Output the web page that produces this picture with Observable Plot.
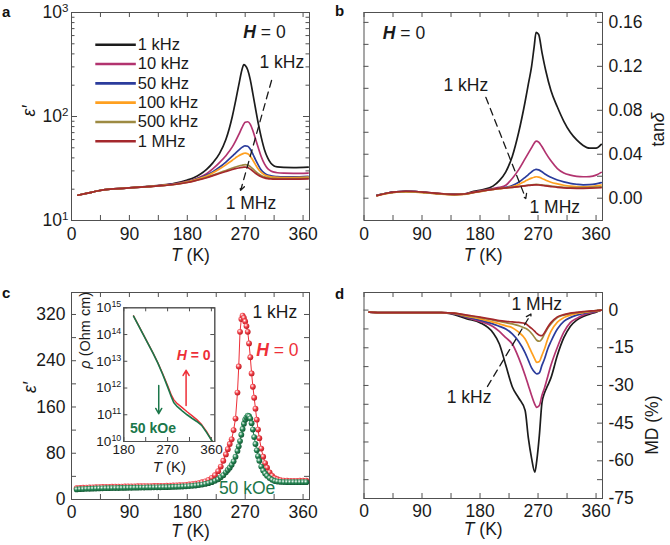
<!DOCTYPE html>
<html><head><meta charset="utf-8">
<script src="https://cdn.jsdelivr.net/npm/d3@7"></script>
<script src="https://cdn.jsdelivr.net/npm/@observablehq/plot@0.6"></script>
<style>
body{margin:0;background:#fff;}
#fig{position:relative;width:670px;height:545px;background:#fff;font-family:'Liberation Sans',Arial,Helvetica,sans-serif;}
.plab{position:absolute;font-weight:bold;font-size:15px;line-height:15px;color:#111;}
</style></head>
<body><div id="fig">
<div class="plab" style="left:2px;top:4px">a</div>
<div class="plab" style="left:335px;top:3px">b</div>
<div class="plab" style="left:2px;top:285px">c</div>
<div class="plab" style="left:335px;top:286px">d</div>
</div>
<script>
// ---------- data ----------
const freqs = ["1 kHz","10 kHz","50 kHz","100 kHz","500 kHz","1 MHz"];
const freqColors = ["#1c1c1c","#b2336f","#2b3c9c","#ffa020","#9d8a42","#a4282c"];

// panel a: eps' (log) vs T
const Ta = [10,25,40,60,80,100,120,140,160,180,190,200,210,220,230,240,250,255,260,265,268,270,274,278,282,286,290,295,300,305,310,315,320,330,345,368];
const epsA_1k   = [17.5,18.3,19.2,20.0,20.4,20.8,21.3,21.9,22.8,24.5,25.8,27.8,31,36,44,60,100,140,200,282,316,310,280,225,165,120,88,63,48,40,35.5,33.5,32.8,32.4,32.3,32.6];
const epsA_10k  = [17.5,18.3,19.2,20.0,20.4,20.8,21.2,21.8,22.5,23.8,24.8,26.2,28.2,31.5,36,42,51,58,67,78,85,88,89,84,73,61,51,41,35,31.5,30,29.2,28.8,28.5,28.4,28.6];
const epsA_50k  = [17.5,18.3,19.2,20,20.4,20.8,21.2,21.7,22.4,23.6,24.5,25.7,27.3,29.5,32.5,36.5,41.5,44.5,47.5,50.5,51.8,52.3,51.8,48.5,43.5,38.5,34.5,30.5,28.5,27.4,26.9,26.6,26.4,26.3,26.3,26.6];
const epsA_100k = [17.5,18.3,19.2,20,20.4,20.8,21.2,21.7,22.3,23.5,24.3,25.4,26.8,28.8,31.3,34.3,38,40,42,43.5,44.2,44.5,43.8,41.5,38,34.5,31.5,29,27.5,26.7,26.3,26.1,26,25.9,25.9,26.1];
const epsA_500k = [17.5,18.3,19.2,20,20.4,20.8,21.2,21.6,22.2,23.3,24,25,26,27.3,28.8,30.3,31.9,32.7,33.4,34,34.3,34.4,34.1,33,31.3,29.7,28.4,27.1,26.3,25.8,25.5,25.4,25.3,25.3,25.3,25.5];
const epsA_1M   = [17.5,18.3,19.2,20,20.4,20.8,21.2,21.6,22.2,23.2,23.9,24.8,25.8,27,28.3,29.6,30.9,31.5,32,32.4,32.6,32.6,32.3,31.2,29.8,28.5,27.4,26.4,25.7,25.3,25.1,25,25,25,25,25.1];

// panel b: tan(delta) vs T
const Tb = [20,35,50,65,80,95,110,125,140,155,170,185,200,210,220,230,240,250,255,260,264,267,271,276,282,290,300,310,320,330,340,350,360,368];
const tanB_1k   = [0.0025,0.0045,0.0057,0.0062,0.006,0.0053,0.0045,0.0038,0.0034,0.0038,0.0062,0.0078,0.011,0.016,0.024,0.038,0.06,0.088,0.104,0.12,0.138,0.151,0.149,0.133,0.116,0.098,0.083,0.07,0.06,0.053,0.048,0.0455,0.0455,0.049];
const tanB_10k  = [0.0025,0.0045,0.0057,0.0062,0.006,0.0053,0.0045,0.0037,0.0033,0.0037,0.0055,0.0072,0.0088,0.0098,0.0118,0.018,0.026,0.036,0.041,0.046,0.05,0.052,0.051,0.047,0.041,0.034,0.027,0.023,0.021,0.0198,0.0195,0.0197,0.021,0.0235];
const tanB_50k  = [0.0025,0.0045,0.0057,0.0062,0.006,0.0052,0.0044,0.0037,0.0033,0.0036,0.0052,0.0068,0.0082,0.009,0.0098,0.0115,0.0145,0.019,0.0215,0.024,0.0256,0.0263,0.0258,0.024,0.0215,0.019,0.0165,0.0148,0.0135,0.0127,0.0122,0.0123,0.013,0.0142];
const tanB_100k = [0.0022,0.0042,0.0054,0.0058,0.0056,0.0049,0.0041,0.0034,0.0031,0.0035,0.005,0.0065,0.0079,0.0087,0.0094,0.0105,0.0125,0.0155,0.017,0.0183,0.0191,0.0195,0.0192,0.018,0.0163,0.0145,0.013,0.0118,0.011,0.0106,0.0104,0.0106,0.0112,0.012];
const tanB_500k = [0.0024,0.0044,0.0056,0.006,0.0058,0.0051,0.0043,0.0036,0.0033,0.0037,0.0052,0.0067,0.008,0.0088,0.0093,0.0099,0.0106,0.0115,0.0119,0.0122,0.0124,0.0125,0.0124,0.0121,0.0116,0.011,0.0104,0.0099,0.0097,0.0096,0.0096,0.0098,0.0101,0.0104];
const tanB_1M   = [0.0024,0.0045,0.0058,0.0063,0.0061,0.0054,0.0046,0.0038,0.0034,0.0038,0.0053,0.0068,0.0081,0.0089,0.0094,0.0099,0.0105,0.0112,0.0116,0.0119,0.0121,0.0121,0.012,0.0117,0.0112,0.0106,0.0099,0.0094,0.0091,0.009,0.009,0.0091,0.0093,0.0095];

// panel c: eps' at 1 kHz, H = 0 and 50 kOe
const Tc = [8,13,18,23,28,33,38,43,48,53,58,63,68,73,78,83,88,93,98,103,108,113,118,123,128,133,138,143,148,153,158,163,168,173,178,183,188,193,198,203,208,213,218,223,228,
  232,236,240,243,246,249,252,255,258,260,262,264,266,268,270,272,274,276,278,280,282,284,286,288,290,292,295,298,301,304,308,312,316,320,325,330,335,340,345,350,355,360,365];
const epsC_H0 = [19.5,20,20.3,20.6,20.9,21.1,21.3,21.5,21.7,21.9,22,22.1,22.2,22.3,22.4,22.5,22.6,22.7,22.8,22.9,23,23.1,23.2,23.3,23.4,23.5,23.6,23.7,23.8,24,24.2,24.4,24.7,25,25.4,25.9,26.5,27.3,28.4,29.8,31.5,34,37.5,42,49,
  57,67,78,87,96,104,120,140,185,230,290,312,318,314,308,300,290,270,246,218,195,176,157,138,121,106,88,74,63,55,47,41,37,35,33.5,32.8,32.5,32.3,32.3,32.3,32.4,32.4,32.5];
const epsC_50k = [17.5,17.8,18.1,18.4,18.6,18.8,19,19.2,19.3,19.5,19.6,19.7,19.8,19.9,20,20.1,20.2,20.3,20.4,20.5,20.6,20.7,20.8,20.9,21,21.1,21.2,21.3,21.4,21.6,21.8,22,22.2,22.5,22.8,23.2,23.6,24.2,24.9,25.8,26.9,28.3,30,32.3,35,
  38.5,42,47,51,55,60,66,74,84,92,101,112,122,131,138,142,145,144,140,132,121,108,96,85,75,67,57,50,45,41,37,34,32,31,30.4,30.1,30,29.9,29.9,29.9,30,30,30];

// inset: resistivity (Ohm cm) vs T
const Tin = [200,210,220,230,240,250,260,270,278,283,290,300,310,320,330,340,350,361];
const rhoH0  = [5.0e14,2.25e14,1.02e14,4.6e13,2.05e13,8.8e12,3.4e12,1.25e12,5.3e11,3.6e11,2.6e11,1.85e11,1.3e11,9.3e10,6.6e10,4.3e10,2.4e10,1.07e10];
const rho50k = [4.9e14,2.2e14,1.0e14,4.5e13,2.0e13,8.5e12,3.2e12,1.1e12,4.5e11,2.8e11,2.0e11,1.4e11,1.0e11,7.4e10,5.6e10,4.0e10,2.2e10,1.07e10];

// panel d: magnetodielectric MD (%) vs T
const Td = [8,30,60,90,120,140,160,180,200,210,220,230,240,250,255,260,265,268,272,276,280,285,290,300,310,320,330,340,350,360,368];
const mdD_1k   = [-0.8,-1,-1,-1,-1,-1.8,-3.5,-5,-9,-13.5,-22,-30.5,-35,-40,-51,-59,-64.5,-60,-50,-37,-33,-30,-27,-18,-11,-6.5,-4,-2.5,-1.6,-0.8,0];
const mdD_10k  = [-0.8,-1,-1,-1,-1,-1.5,-3,-4.5,-6.5,-8.5,-11,-13.5,-19,-26,-30,-34,-37.5,-38.7,-38,-34,-31,-26.5,-22,-14.8,-8.8,-5,-3.3,-2,-1.2,-0.6,0];
const mdD_50k  = [-0.8,-1,-1,-1,-1,-1.4,-2.8,-4,-5.5,-6.5,-7.5,-9.5,-12.5,-17,-20,-23,-24.8,-25.4,-25,-22,-19.5,-15.5,-12.5,-7.5,-4.5,-3,-2,-1.3,-0.8,-0.4,0];
const mdD_100k = [-0.8,-1,-1,-1,-1,-1.3,-2.5,-3.5,-4.8,-5.5,-6.3,-7,-8.8,-11.5,-14,-16.8,-19.5,-20.8,-20.5,-18,-15.5,-11.5,-8.5,-4.8,-3,-2,-1.4,-1,-0.6,-0.3,0];
const mdD_500k = [-0.8,-1,-1,-1,-1,-1.2,-2.2,-3,-4,-4.5,-5,-5.5,-6.2,-7.2,-8,-9.3,-11,-12,-12.4,-11.5,-9.5,-7.2,-5.5,-3,-2,-1.4,-1,-0.7,-0.4,-0.2,0];
const mdD_1M   = [-0.8,-1,-1,-1,-1,-1.2,-2,-2.8,-3.7,-4.2,-4.5,-4.7,-4.9,-5.3,-6.3,-7.3,-8.5,-9.3,-10,-10.2,-9,-6.8,-5,-2.7,-1.8,-1.2,-0.9,-0.6,-0.4,-0.2,0];

// tick values
const xLabelTicks = [0,90,180,270,360];
const xMinorTicks = [0,45,90,135,180,225,270,315,360];
const logMajor = [10,100,1000];
const logMinor = [20,30,40,50,60,70,80,90,200,300,400,500,600,700,800,900];
const tanLabelTicks = [0,0.04,0.08,0.12,0.16];
const tanTicks = [0,0.02,0.04,0.06,0.08,0.10,0.12,0.14,0.16];
const epsCLabelTicks = [0,80,160,240,320];
const epsCTicks = [0,40,80,120,160,200,240,280,320];
const mdLabelTicks = [0,-15,-30,-45,-60,-75];
const mdTicks = [0,-7.5,-15,-22.5,-30,-37.5,-45,-52.5,-60,-67.5,-75];
const inXTicks = [180,270,360];
const inXMinor = [180,225,270,315,360];
const inYTicks = [1e10,1e11,1e12,1e13,1e14,1e15];

// annotations (data coordinates)
const annA = [{T: 300, v: 640, s: "H = 0"}, {T: 327, v: 330, s: "1 kHz"}, {T: 279, v: 14.5, s: "1 MHz"}];
const arrA = [{x1: 311, y1: 222, x2: 263, y2: 19.5}];
const annB = [{T: 62, v: 0.150, s: "H = 0"}, {T: 158, v: 0.1027, s: "1 kHz"}, {T: 296, v: -0.0085, s: "1 MHz"}];
const arrB = [{x1: 189, y1: 0.0918, x2: 251, y2: -0.0003}];
const annD = [{T: 268, v: 2.4, s: "1 MHz"}, {T: 163, v: -34.7, s: "1 kHz"}];
const arrD = [{x1: 191.6, y1: -30.4, x2: 259, y2: -1.6}];

// ---------- drawing ----------
const FONT = "'Liberation Sans', Arial, Helvetica, sans-serif";
const INK = "#1a1a1a", FRAME = "#505050";
const RED = "#ee2f38", GREEN = "#1b774a";
const fig = document.getElementById("fig");
const baseStyle = {fontFamily: FONT, fontSize: "17.5px", color: INK, background: "transparent", overflow: "visible"};

function inTicks(xv, yv, iw, ih, len) {
  const out = [];
  if (xv) out.push(
    Plot.tickX(xv, {x: d => d, insetTop: ih - len, stroke: FRAME}),
    Plot.tickX(xv, {x: d => d, insetBottom: ih - len, stroke: FRAME}));
  if (yv) out.push(
    Plot.tickY(yv, {y: d => d, insetRight: iw - len, stroke: FRAME}),
    Plot.tickY(yv, {y: d => d, insetLeft: iw - len, stroke: FRAME}));
  return out;
}
function longRows(Ts, series) {
  return freqs.flatMap((f, k) => Ts.map((T, i) => ({T, v: series[k][i], f})));
}
function richify(svg) {
  d3.select(svg).selectAll("text").each(function() {
    if (this.querySelector("tspan")) return;
    const t = this.textContent;
    let h = null, m;
    if ((m = t.match(/^10\^(\d+)$/))) h = `10<tspan dy="-0.55em" font-size="0.66em">${m[1]}</tspan>`;
    else if (t === "T (K)") h = `<tspan font-style="italic">T</tspan> (K)`;
    else if (t === "H = 0") h = `<tspan font-style="italic" font-weight="bold">H</tspan> = 0`;
    else if (t === "ρ (Ohm cm)") h = `<tspan font-style="italic">ρ</tspan> (Ohm cm)`;
    else if (t === "tanδ") h = `tan<tspan font-style="italic">δ</tspan>`;
    if (h !== null) this.innerHTML = h;
  });
}
function mount(svg, left, top) {
  svg.style.position = "absolute";
  svg.style.left = left + "px";
  svg.style.top = top + "px";
  richify(svg);
  fig.appendChild(svg);
  return svg;
}
const legY = i => 490 * Math.pow(0.652, i);
const xTitle = (dy, extra = {}) => Plot.text(["T (K)"], {frameAnchor: "bottom", lineAnchor: "middle", dy, text: d => d, fill: INK, ...extra});

// Panel a
{
  const W = 335, H = 250, m = {t: 12, r: 26, b: 30, l: 71};
  const iw = W - m.l - m.r, ih = H - m.t - m.b;
  const rows = longRows(Ta, [epsA_1k, epsA_10k, epsA_50k, epsA_100k, epsA_500k, epsA_1M]);
  const svg = Plot.plot({
    width: W, height: H, marginTop: m.t, marginRight: m.r, marginBottom: m.b, marginLeft: m.l,
    style: baseStyle,
    x: {domain: [0, 370]},
    y: {type: "log", domain: [10, 1000]},
    color: {domain: freqs, range: freqColors},
    marks: [
      ...inTicks(xMinorTicks, null, iw, ih, 5),
      ...inTicks(null, logMajor, iw, ih, 6),
      ...inTicks(null, logMinor, iw, ih, 3.5),
      Plot.frame({stroke: FRAME}),
      Plot.axisX({ticks: xLabelTicks, tickSize: 0, tickPadding: 7, label: null}),
      Plot.axisY({ticks: logMajor, tickSize: 0, tickPadding: 3, label: null, tickFormat: d => "10^" + Math.round(Math.log10(d))}),
      xTitle(35),
      Plot.text(["ε′"], {frameAnchor: "left", dx: -42, rotate: -90, fontStyle: "italic", text: d => d, fill: INK}),
      Plot.line(rows, {x: "T", y: "v", z: "f", stroke: "f", strokeWidth: 1.7, curve: "monotone-x"}),
      Plot.link(freqs, {x1: 37, x2: 100, y1: (d, i) => legY(i), y2: (d, i) => legY(i), stroke: d => d, strokeWidth: 2.6}),
      Plot.text(freqs, {x: 103, y: (d, i) => legY(i), text: d => d, textAnchor: "start", fill: INK, fontSize: 16.5}),
      Plot.arrow(arrA, {x1: "x1", y1: "y1", x2: "x2", y2: "y2", stroke: INK, strokeWidth: 1.3, strokeDasharray: "7,5", headLength: 6}),
      Plot.text(annA, {x: "T", y: "v", text: "s", fill: INK})
    ]
  });
  mount(svg, 0, 0);
}

// Panel b
{
  const W = 335, H = 250, m = {t: 12, r: 68, b: 30, l: 28.5};
  const iw = W - m.l - m.r, ih = H - m.t - m.b;
  const rows = longRows(Tb, [tanB_1k, tanB_10k, tanB_50k, tanB_100k, tanB_500k, tanB_1M]);
  const svg = Plot.plot({
    width: W, height: H, marginTop: m.t, marginRight: m.r, marginBottom: m.b, marginLeft: m.l,
    style: baseStyle,
    x: {domain: [0, 370]},
    y: {domain: [-0.0203, 0.169]},
    color: {domain: freqs, range: freqColors},
    marks: [
      ...inTicks(xMinorTicks, tanTicks, iw, ih, 5),
      Plot.frame({stroke: FRAME}),
      Plot.axisX({ticks: xLabelTicks, tickSize: 0, tickPadding: 7, label: null}),
      Plot.axisY({anchor: "right", ticks: tanLabelTicks, tickSize: 0, tickPadding: 6, label: null, tickFormat: d3.format(".2f")}),
      xTitle(35),
      Plot.text(["tanδ"], {frameAnchor: "right", dx: 56, dy: -4, rotate: -90, text: d => d, fill: INK}),
      Plot.line(rows, {x: "T", y: "v", z: "f", stroke: "f", strokeWidth: 1.7, curve: "monotone-x"}),
      Plot.arrow(arrB, {x1: "x1", y1: "y1", x2: "x2", y2: "y2", stroke: INK, strokeWidth: 1.3, strokeDasharray: "7,5", headLength: 6}),
      Plot.text(annB, {x: "T", y: "v", text: "s", fill: INK})
    ]
  });
  mount(svg, 335, 0);
}

// Panel c
{
  const W = 335, H = 295, m = {t: 42, r: 26, b: 46, l: 71};
  const iw = W - m.l - m.r, ih = H - m.t - m.b;
  const h0 = Tc.map((T, i) => ({T, v: epsC_H0[i]}));
  const h50 = Tc.map((T, i) => ({T, v: epsC_50k[i]}));
  const svg = Plot.plot({
    width: W, height: H, marginTop: m.t, marginRight: m.r, marginBottom: m.b, marginLeft: m.l,
    style: baseStyle,
    x: {domain: [0, 370]},
    y: {domain: [0, 358]},
    marks: [
      ...inTicks(xMinorTicks, epsCTicks, iw, ih, 5),
      Plot.frame({stroke: FRAME}),
      Plot.axisX({ticks: xLabelTicks, tickSize: 0, tickPadding: 6, label: null}),
      Plot.axisY({ticks: epsCLabelTicks, tickSize: 0, tickPadding: 6, label: null}),
      xTitle(31.5),
      Plot.text(["ε′"], {frameAnchor: "left", dx: -41, dy: -3, rotate: -90, fontStyle: "italic", text: d => d, fill: INK}),
      Plot.line(h0, {x: "T", y: "v", stroke: RED, strokeWidth: 1}),
      Plot.dot(h0, {x: "T", y: "v", r: 2.9, fill: "url(#sphR)", stroke: "none"}),
      Plot.line(h50, {x: "T", y: "v", stroke: GREEN, strokeWidth: 1}),
      Plot.dot(h50, {x: "T", y: "v", r: 2.9, fill: "url(#sphG)", stroke: "none"}),
      Plot.text([{T: 316, v: 323, s: "1 kHz"}], {x: "T", y: "v", text: "s", fill: INK}),
      Plot.text([{T: 320, v: 258, s: "H = 0"}], {x: "T", y: "v", text: "s", fill: RED}),
      Plot.text([{T: 273, v: 19, s: "50 kOe"}], {x: "T", y: "v", text: "s", fill: GREEN})
    ]
  });
  d3.select(svg).insert("defs", ":first-child").html(
    `<radialGradient id="sphR" cx="0.38" cy="0.35" r="0.7"><stop offset="0" stop-color="#ffffff"/><stop offset="0.45" stop-color="#f2424a"/><stop offset="1" stop-color="#b5161e"/></radialGradient>` +
    `<radialGradient id="sphG" cx="0.38" cy="0.35" r="0.7"><stop offset="0" stop-color="#ffffff"/><stop offset="0.45" stop-color="#2a8a58"/><stop offset="1" stop-color="#0d4f2c"/></radialGradient>`);
  mount(svg, 0, 250);
}

// Inset of panel c
{
  const W = 170, H = 185, m = {t: 17.3, r: 15.7, b: 34, l: 63.3};
  const iw = W - m.l - m.r, ih = H - m.t - m.b;
  const r0 = Tin.map((T, i) => ({T, v: rhoH0[i]}));
  const r5 = Tin.map((T, i) => ({T, v: rho50k[i]}));
  const svg = Plot.plot({
    width: W, height: H, marginTop: m.t, marginRight: m.r, marginBottom: m.b, marginLeft: m.l,
    style: {...baseStyle, fontSize: "13.5px"},
    x: {domain: [180, 367]},
    y: {type: "log", domain: [1e10, 1e15]},
    marks: [
      Plot.frame({fill: "white", stroke: FRAME}),
      ...inTicks(inXMinor, inYTicks, iw, ih, 4),
      Plot.frame({stroke: FRAME}),
      Plot.axisX({ticks: inXTicks, tickSize: 0, tickPadding: 3, label: null}),
      Plot.axisY({ticks: inYTicks, tickSize: 0, tickPadding: 2.5, label: null, tickFormat: d => "10^" + Math.round(Math.log10(d))}),
      xTitle(26, {fontSize: 15}),
      Plot.text(["ρ (Ohm cm)"], {frameAnchor: "left", dx: -38, dy: -6, rotate: -90, text: d => d, fill: INK, fontSize: 14.5}),
      Plot.line(r0, {x: "T", y: "v", stroke: RED, strokeWidth: 1.4}),
      Plot.line(r5, {x: "T", y: "v", stroke: GREEN, strokeWidth: 1.6}),
      Plot.arrow([{x: 308, a: 2.2e11, b: 4.6e12}], {x1: "x", x2: "x", y1: "a", y2: "b", stroke: RED, strokeWidth: 1.5, headLength: 6}),
      Plot.arrow([{x: 251.8, a: 1.23e12, b: 1.1e11}], {x1: "x", x2: "x", y1: "a", y2: "b", stroke: GREEN, strokeWidth: 1.5, headLength: 6}),
      Plot.text([{T: 323.5, v: 1.66e13, s: "H = 0"}], {x: "T", y: "v", text: "s", fill: RED, fontWeight: "bold", fontSize: 14}),
      Plot.text([{T: 240, v: 2.95e10, s: "50 kOe"}], {x: "T", y: "v", text: "s", fill: GREEN, fontWeight: "bold", fontSize: 14})
    ]
  });
  mount(svg, 60, 290);
}

// Panel d
{
  const W = 335, H = 295, m = {t: 42, r: 68, b: 47, l: 28.5};
  const iw = W - m.l - m.r, ih = H - m.t - m.b;
  const rows = longRows(Td, [mdD_1k, mdD_10k, mdD_50k, mdD_100k, mdD_500k, mdD_1M]);
  const svg = Plot.plot({
    width: W, height: H, marginTop: m.t, marginRight: m.r, marginBottom: m.b, marginLeft: m.l,
    style: baseStyle,
    x: {domain: [0, 370]},
    y: {domain: [-75, 7]},
    color: {domain: freqs, range: freqColors},
    marks: [
      ...inTicks(xMinorTicks, mdTicks, iw, ih, 5),
      Plot.frame({stroke: FRAME}),
      Plot.axisX({ticks: xLabelTicks, tickSize: 0, tickPadding: 6, label: null}),
      Plot.axisY({anchor: "right", ticks: mdLabelTicks, tickSize: 0, tickPadding: 6, label: null, tickFormat: d => String(d)}),
      xTitle(30.5),
      Plot.text(["MD (%)"], {frameAnchor: "right", dx: 50, rotate: -90, text: d => d, fill: INK}),
      Plot.line(rows, {x: "T", y: "v", z: "f", stroke: "f", strokeWidth: 1.7, curve: "monotone-x"}),
      Plot.arrow(arrD, {x1: "x1", y1: "y1", x2: "x2", y2: "y2", stroke: INK, strokeWidth: 1.3, strokeDasharray: "7,5", headLength: 6}),
      Plot.text(annD, {x: "T", y: "v", text: "s", fill: INK})
    ]
  });
  mount(svg, 335, 250);
}
</script>
</body></html>
